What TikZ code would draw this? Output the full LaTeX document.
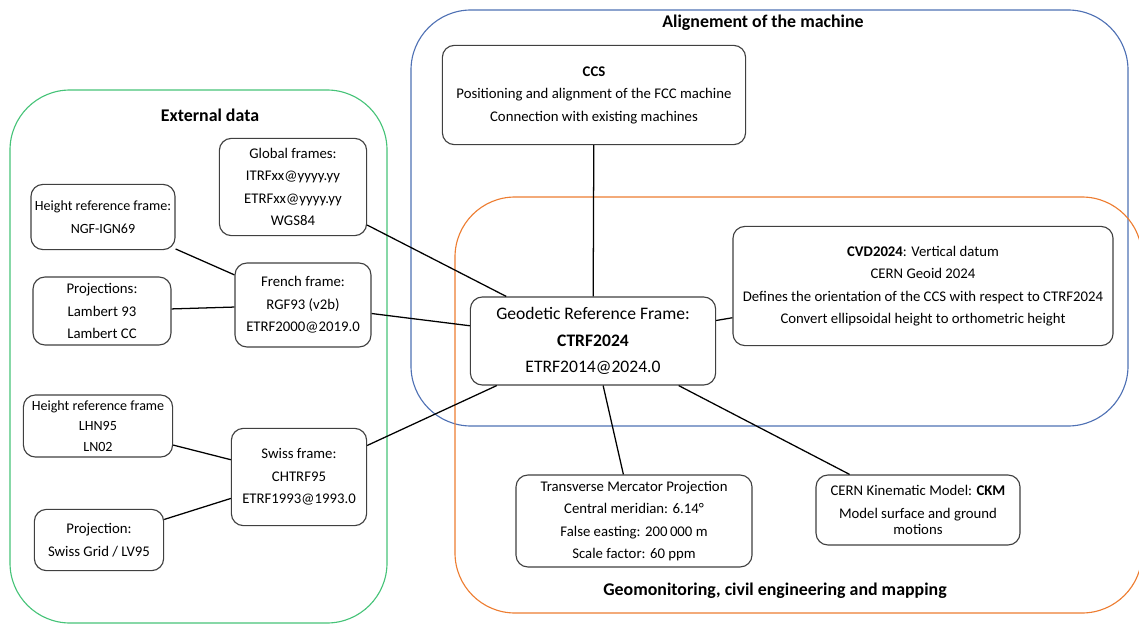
\documentclass[tikz,border=0pt]{standalone}
\usepackage{fontspec}
\setmainfont{Carlito}
\definecolor{extgreen}{RGB}{70,195,120}
\definecolor{alignblue}{RGB}{79,113,180}
\definecolor{geoorange}{RGB}{237,125,49}
\tikzset{
	box/.style={draw=black!75, line width=0.8pt, rounded corners=0.3cm, fill=white, align=center, inner sep=0pt, font=\fontsize{10.5}{16}\selectfont},
	area/.style={line width=0.8pt, rounded corners=1.5cm},
	title/.style={font=\fontsize{12.7}{14}\selectfont\bfseries},
	link/.style={line width=0.9pt}
}
\begin{document}
\begin{tikzpicture}[x=0.025cm, y=-0.025cm]
				\useasboundingbox (0,0) rectangle (1139,624);
				% areas
				\draw [area, extgreen] (10,90) rectangle (387,623);
				\draw [area, alignblue] (411,10) rectangle (1128,426);
				\draw [area, geoorange] (455,197) rectangle (1142,613);
				\node [title] at (210,115) {External data};
				\node [title] at (763,23) {Alignement of the machine};
				\node [title] at (775,591) {Geomonitoring, civil engineering and mapping};
				% central frame
				\node [box, minimum width=6.13cm, minimum height=2.2cm, font=\fontsize{12.5}{18.8}\selectfont] (geo) at (593,341)
					{Geodetic Reference Frame:\\\textbf{CTRF2024}\\ETRF2014@2024.0};
				\node [box, minimum width=7.58cm, minimum height=2.48cm] (ccs) at (594,95)
					{\textbf{CCS}\\Positioning and alignment of the FCC machine\\Connection with existing machines};
				\node [box, minimum width=9.5cm, minimum height=2.98cm] (cvd) at (923,286)
					{\textbf{CVD2024}: Vertical datum\\CERN Geoid 2024\\Defines the orientation of the CCS with respect to CTRF2024\\Convert ellipsoidal height to orthometric height};
				\node [box, minimum width=5.9cm, minimum height=2.3cm] (tm) at (634,521)
					{Transverse Mercator Projection\\Central meridian: 6.14°\\False easting: 200\,000 m\\Scale factor: 60 ppm};
				\node [box, minimum width=5.1cm, minimum height=1.75cm, font=\fontsize{10.5}{11.5}\selectfont] (ckm) at (918,510)
					{CERN Kinematic Model: \textbf{CKM}\\[5pt]Model surface and ground\\motions};
				% external data
				\node [box, minimum width=3.68cm, minimum height=2.43cm] (glob) at (293,187)
					{Global frames:\\ITRFxx@yyyy.yy\\ETRFxx@yyyy.yy\\WGS84};
				\node [box, minimum width=3.6cm, minimum height=1.63cm, font=\fontsize{10}{16}\selectfont] (hfr) at (103,217)
					{Height reference frame:\\NGF-IGN69};
				\node [box, minimum width=3.45cm, minimum height=1.7cm] (pfr) at (102,311)
					{Projections:\\Lambert 93\\Lambert CC};
				\node [box, minimum width=3.4cm, minimum height=2.1cm] (fr) at (303,305)
					{French frame:\\RGF93 (v2b)\\ETRF2000@2019.0};
				\node [box, minimum width=3.73cm, minimum height=1.55cm, font=\fontsize{10}{14.5}\selectfont] (hch) at (98,426)
					{Height reference frame\\LHN95\\LN02};
				\node [box, minimum width=3.38cm, minimum height=2.43cm] (ch) at (299,477)
					{Swiss frame:\\CHTRF95\\ETRF1993@1993.0};
				\node [box, minimum width=3.23cm, minimum height=1.53cm] (pch) at (99,540)
					{Projection:\\Swiss Grid / LV95};
				% links
				\draw [link] (ccs) -- (geo);
				\draw [link] (cvd) -- (geo);
				\draw [link] (tm) -- (geo);
				\draw [link] (ckm) -- (geo);
				\draw [link] (glob) -- (geo);
				\draw [link] (fr) -- (geo);
				\draw [link] (ch) -- (geo);
				\draw [link] (hfr) -- (fr);
				\draw [link] (pfr) -- (fr);
				\draw [link] (hch) -- (ch);
				\draw [link] (pch) -- (ch);
			\end{tikzpicture}
\end{document}
